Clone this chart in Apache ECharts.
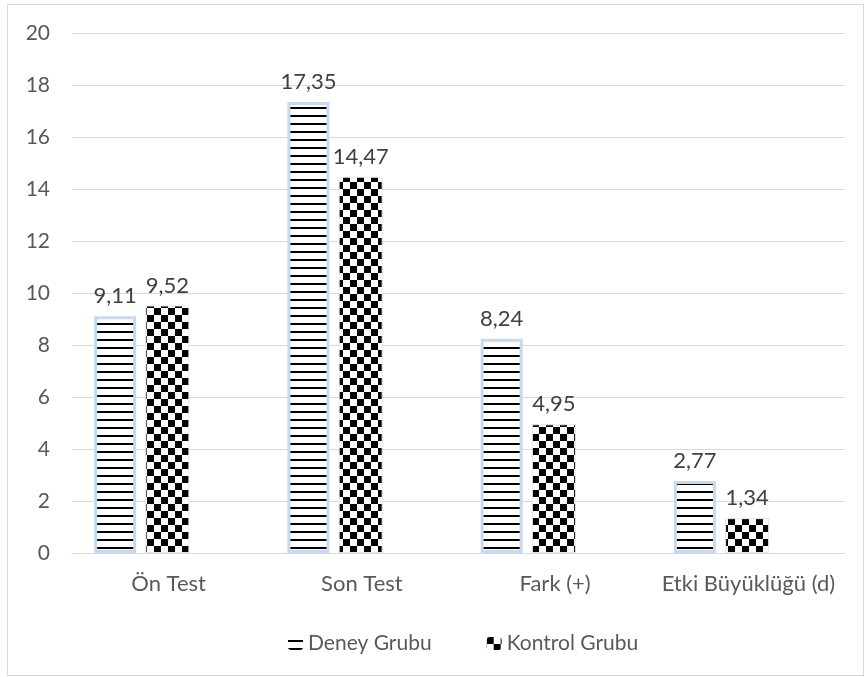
<!DOCTYPE html>
<html>
<head>
<meta charset="utf-8">
<script src="https://cdn.jsdelivr.net/npm/echarts@6/dist/echarts.min.js"></script>
<style>
  html, body { margin: 0; padding: 0; background: #fff; }
  #frame { position: absolute; left: 7px; top: 4px; width: 855px; height: 670px; border: 1px solid #d9d9d9; }
  #chart { width: 865px; height: 677px; position: absolute; left: 0; top: 0; }
</style>
</head>
<body>
<div id="frame"></div>
<div id="chart"></div>
<script>
var categories = ['Ön Test', 'Son Test', 'Fark (+)', 'Etki Büyüklüğü (d)'];
var deneyValues = [9.11, 17.35, 8.24, 2.77];
var kontrolValues = [9.52, 14.47, 4.95, 1.34];
var yTicks = [0, 2, 4, 6, 8, 10, 12, 14, 16, 18, 20];

// yatay cizgili desen
function stripePattern() {
    var c = document.createElement('canvas');
    c.width = 8; c.height = 8;
    var ctx = c.getContext('2d');
    ctx.fillStyle = '#fff';
    ctx.fillRect(0, 0, 8, 8);
    ctx.fillStyle = '#000';
    ctx.fillRect(0, 3, 8, 2);
    return c;
}

// dama deseni
function checkerPattern() {
    var c = document.createElement('canvas');
    c.width = 14; c.height = 14;
    var ctx = c.getContext('2d');
    ctx.fillStyle = '#fff';
    ctx.fillRect(0, 0, 14, 14);
    ctx.fillStyle = '#000';
    ctx.fillRect(0, 0, 7, 7);
    ctx.fillRect(7, 7, 7, 7);
    return c;
}

var chart = echarts.init(document.getElementById('chart'));

var labelStyle = {
    show: true,
    position: 'top',
    distance: 9,
    color: '#404040',
    fontSize: 22,
    fontFamily: 'Lato',
    formatter: function (p) { return String(p.value.toFixed(2)).replace('.', ','); }
};

var option = {
    animation: false,
    textStyle: { fontFamily: 'Lato' },
    grid: { left: 72, right: 20, top: 33, bottom: 124 },
    legend: {
        data: [
            { name: 'Deney Grubu', itemStyle: { borderWidth: 0 } },
            { name: 'Kontrol Grubu', itemStyle: { borderWidth: 0 } }
        ],
        left: 283,
        top: 628,
        itemWidth: 15,
        itemHeight: 13,
        itemGap: 55,
        textStyle: { fontSize: 21, color: '#595959', fontFamily: 'Lato' }
    },
    xAxis: {
        type: 'category',
        data: categories,
        axisLine: { lineStyle: { color: '#d9d9d9', width: 1 } },
        axisTick: { show: false },
        axisLabel: { color: '#595959', fontSize: 22, margin: 20, fontFamily: 'Lato', interval: 0 }
    },
    yAxis: {
        type: 'value',
        min: 0,
        max: 20,
        interval: 2,
        axisLine: { show: false },
        axisTick: { show: false },
        splitLine: { lineStyle: { color: '#d9d9d9', width: 1 } },
        axisLabel: { color: '#595959', fontSize: 21, margin: 22, fontFamily: 'Lato',
            formatter: function (v) { return yTicks.indexOf(v) >= 0 ? String(v) : ''; } }
    },
    series: [
        {
            name: 'Deney Grubu',
            type: 'bar',
            data: deneyValues,
            barWidth: 42,
            barGap: '22%',
            itemStyle: {
                color: { image: stripePattern(), repeat: 'repeat' },
                borderColor: '#c6d9f1',
                borderWidth: 3
            },
            label: labelStyle
        },
        {
            name: 'Kontrol Grubu',
            type: 'bar',
            data: kontrolValues,
            barWidth: 44,
            itemStyle: {
                color: { image: checkerPattern(), repeat: 'repeat' },
                borderColor: '#e6e6e6',
                borderWidth: 1
            },
            label: labelStyle
        },
        {
            name: 'bos',
            type: 'bar',
            data: [null, null, null, null],
            barWidth: 44
        }
    ]
};

chart.setOption(option);
</script>
</body>
</html>
